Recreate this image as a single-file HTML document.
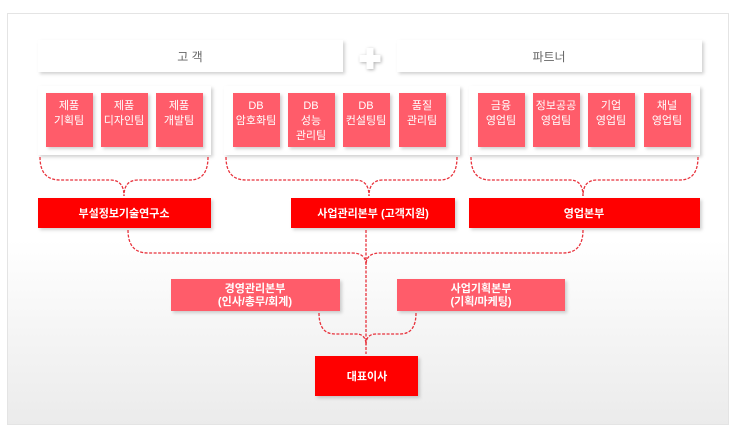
<!DOCTYPE html>
<html><head><meta charset="utf-8"><style>
body{margin:0;width:737px;height:431px;overflow:hidden;background:#fff;font-family:"Liberation Sans","Noto Sans CJK KR",sans-serif}
</style></head><body>
<svg width="737" height="431" xmlns="http://www.w3.org/2000/svg" font-family="Liberation Sans, Noto Sans CJK KR, sans-serif">
<defs>
<linearGradient id="bg" x1="0" y1="0" x2="0" y2="1">
<stop offset="0" stop-color="#fff"/><stop offset="0.55" stop-color="#fff"/><stop offset="1" stop-color="#ebebeb"/>
</linearGradient>
<filter id="sh" x="-10%" y="-10%" width="130%" height="140%"><feDropShadow dx="2" dy="2" stdDeviation="1.5" flood-color="#000" flood-opacity="0.18"/></filter>
<filter id="sh2" x="-30%" y="-30%" width="170%" height="170%"><feDropShadow dx="1" dy="1" stdDeviation="1.5" flood-color="#000" flood-opacity="0.3"/></filter>
</defs>
<rect x="7.5" y="13.5" width="721" height="411" fill="url(#bg)" stroke="#e4e4e4"/>
<g filter="url(#sh)">
<rect x="38" y="40" width="305" height="32" fill="#fff"/>
<rect x="397" y="40" width="305" height="32" fill="#fff"/>
<rect x="38" y="86" width="173" height="69" fill="#fff"/>
<rect x="224" y="86" width="236" height="69" fill="#fff"/>
<rect x="469" y="86" width="231" height="69" fill="#fff"/>
</g>
<text x="190" y="61" font-size="12" fill="#666" text-anchor="middle">고  객</text>
<text x="549" y="61" font-size="12" fill="#666" text-anchor="middle">파트너</text>
<path d="M366.5 48 h7 v7 h7 v7 h-7 v7 h-7 v-7 h-7 v-7 h7 z" fill="#fff" filter="url(#sh2)"/>
<g fill="#ff5c6a" filter="url(#sh)">
<rect x="46" y="93" width="47" height="54"/><rect x="101" y="93" width="47" height="54"/><rect x="156" y="93" width="47" height="54"/>
<rect x="233" y="93" width="47" height="54"/><rect x="288" y="93" width="47" height="54"/><rect x="343" y="93" width="47" height="54"/><rect x="399" y="93" width="47" height="54"/>
<rect x="478" y="93" width="47" height="54"/><rect x="533" y="93" width="47" height="54"/><rect x="588" y="93" width="47" height="54"/><rect x="644" y="93" width="47" height="54"/>
<rect x="171" y="279" width="169" height="32"/><rect x="397" y="279" width="168" height="32"/>
</g>
<g fill="#ff0000" filter="url(#sh)">
<rect x="38" y="198" width="173" height="30"/><rect x="291" y="198" width="164" height="30"/><rect x="469" y="198" width="231" height="30"/>
<rect x="315" y="356" width="103" height="40"/>
</g>
<g fill="#fff" font-size="11" text-anchor="middle">
<text x="69" y="109">제품</text><text x="69" y="124">기획팀</text>
<text x="124" y="109">제품</text><text x="124" y="124">디자인팀</text>
<text x="179" y="109">제품</text><text x="179" y="124">개발팀</text>
<text x="256" y="109">DB</text><text x="256" y="124">암호화팀</text>
<text x="311" y="109">DB</text><text x="311" y="124">성능</text><text x="311" y="139">관리팀</text>
<text x="366" y="109">DB</text><text x="366" y="124">컨설팅팀</text>
<text x="422" y="109">품질</text><text x="422" y="124">관리팀</text>
<text x="501" y="109">금융</text><text x="501" y="124">영업팀</text>
<text x="556" y="109">정보공공</text><text x="556" y="124">영업팀</text>
<text x="611" y="109">기업</text><text x="611" y="124">영업팀</text>
<text x="667" y="109">채널</text><text x="667" y="124">영업팀</text>
<g font-weight="bold">
<text x="124" y="217">부설정보기술연구소</text>
<text x="373" y="217">사업관리본부 (고객지원)</text>
<text x="584" y="217">영업본부</text>
<text x="255" y="292">경영관리본부</text><text x="255" y="305">(인사/총무/회계)</text>
<text x="481" y="292">사업기획본부</text><text x="481" y="305">(기획/마케팅)</text>
<text x="367" y="380">대표이사</text>
</g></g>
<g fill="none" stroke="#e8323c" stroke-width="1.3" stroke-dasharray="3,1.5">
<path d="M40 157 Q40 180 60 180 H110 Q124 180 124 196"/>
<path d="M208 157 Q208 180 190 180 H138 Q124 180 124 196"/>
<path d="M226 157 Q226 180 246 180 H355 Q369 180 369 196"/>
<path d="M457 157 Q457 180 440 180 H383 Q369 180 369 196"/>
<path d="M471 157 Q471 180 490 180 H570 Q583 180 583 196"/>
<path d="M698 157 Q698 180 680 180 H597 Q583 180 583 196"/>
<path d="M128 230 Q128 253 148 253 H352 Q366 253 366 265"/>
<path d="M583 230 Q583 253 563 253 H380 Q366 253 366 265"/>
<path d="M366 230 V354"/>
<path d="M319 313 Q319 334 335 334 H356 Q366 334 366 345"/>
<path d="M416 313 Q416 334 400 334 H376 Q366 334 366 345"/>
</g>
</svg>
</body></html>
